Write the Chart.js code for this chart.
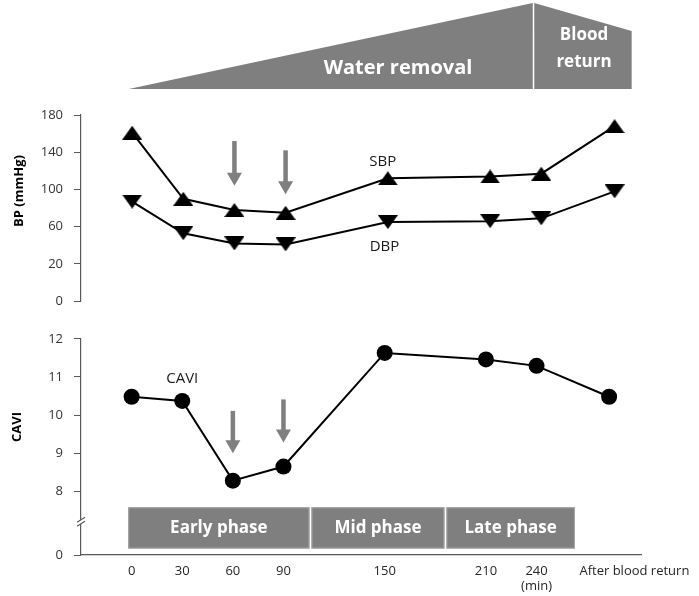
<!DOCTYPE html>
<html>
<head>
<meta charset="utf-8">
<script src="https://cdn.jsdelivr.net/npm/chart.js@4.4.0/dist/chart.umd.min.js"></script>
<style>
  html, body { margin: 0; padding: 0; background: #fff; }
  #wrap { position: relative; width: 699px; height: 596px; }
  #bpChart { position: absolute; left: 0; top: 0; }
  #caviChart { position: absolute; left: 0; top: 320px; }
</style>
</head>
<body>
<div id="wrap">
  <canvas id="bpChart" width="699" height="320"></canvas>
  <canvas id="caviChart" width="699" height="276"></canvas>
</div>
<script>
// time points (min) and readings
const timeLabels = ['0', '30', '60', '90', '150', '210', '240', 'After blood return'];
const timeMinutes = [0, 30, 60, 90, 150, 210, 240, 283];
const sbp = [161, 90, 78, 75, 112, 114, 117, 168];
const dbp = [87, 53, 42, 41, 65, 66, 69, 98];
const cavi = [10.48, 10.37, 8.28, 8.65, 11.63, 11.46, 11.29, 10.48];

// broken axes: the "0" tick sits at the floor value
const bpTickLabels = ['0', '20', '60', '100', '140', '180'];
const caviTickLabels = ['0', '8', '9', '10', '11', '12'];
const BP_FLOOR = -20;
const CAVI_FLOOR = 6.33;

const phaseNames = ['Early phase', 'Mid phase', 'Late phase'];
const phaseEdges = [-2.6, 106, 186, 263.3];

const GREY = '#7f7f7f';
const AXIS = '#595959';
const FONT = '"Open Sans", "DejaVu Sans", sans-serif';
const AFTER_LABEL_AT = 298;

function triangleImg(down) {
  const w = 20, h = 14;
  const c = document.createElement('canvas');
  c.width = w; c.height = h;
  const g = c.getContext('2d');
  g.fillStyle = '#000';
  g.beginPath();
  if (down) { g.moveTo(0, 0); g.lineTo(w, 0); g.lineTo(w / 2, h); }
  else { g.moveTo(w / 2, 0); g.lineTo(w, h); g.lineTo(0, h); }
  g.closePath();
  g.fill();
  return c;
}

function points(vals) {
  return timeMinutes.map((m, i) => ({ x: m, y: vals[i] }));
}

function yScale(floor, max, labels) {
  return {
    min: floor, max: max,
    afterBuildTicks: s => {
      s.ticks = labels.map((l, i) => ({ value: i === 0 ? floor : Number(l) }));
    },
    afterFit: s => { s.width = 81; },
    ticks: {
      callback: (v, i) => labels[i],
      color: '#333', padding: 11,
      font: { family: FONT, size: 13 }
    },
    grid: { drawOnChartArea: false, tickLength: 7, color: AXIS },
    border: { color: AXIS, width: 1.2 }
  };
}

function arrow(ctx, x, y0, y1) {
  const shaft = 4.5, headW = 15, headH = 13;
  ctx.fillStyle = GREY;
  ctx.fillRect(x - shaft / 2, y0, shaft, y1 - y0 - headH + 1);
  ctx.beginPath();
  ctx.moveTo(x - headW / 2, y1 - headH);
  ctx.lineTo(x + headW / 2, y1 - headH);
  ctx.lineTo(x, y1);
  ctx.closePath();
  ctx.fill();
}

// arrows + series labels, given in data units
const decor = {
  id: 'decor',
  afterDatasetsDraw(chart, args, opts) {
    const { ctx, scales: { x, y } } = chart;
    ctx.save();
    (opts.arrows || []).forEach(a => {
      arrow(ctx, x.getPixelForValue(a.x), y.getPixelForValue(a.from), y.getPixelForValue(a.to));
    });
    ctx.fillStyle = '#1a1a1a';
    ctx.font = '15px ' + FONT;
    ctx.textAlign = 'center';
    ctx.textBaseline = 'middle';
    (opts.labels || []).forEach(l => {
      ctx.fillText(l.text, x.getPixelForValue(l.x), y.getPixelForValue(l.y));
    });
    // rotated axis title
    ctx.font = 'bold 13px ' + FONT;
    ctx.fillStyle = '#000';
    ctx.translate(opts.titleX, opts.titleY);
    ctx.rotate(-Math.PI / 2);
    ctx.fillText(opts.title, 0, 0);
    ctx.restore();
  }
};

const banner = {
  id: 'banner',
  beforeDraw(chart) {
    const { ctx, scales: { x } } = chart;
    const xl = x.getPixelForValue(-2), xp = x.getPixelForValue(235), xr = x.getPixelForValue(293);
    ctx.save();
    ctx.fillStyle = GREY;
    ctx.beginPath();
    ctx.moveTo(xl, 89); ctx.lineTo(xp, 3); ctx.lineTo(xp, 89); ctx.closePath();
    ctx.fill();
    ctx.beginPath();
    ctx.moveTo(xp + 1.5, 3); ctx.lineTo(xr, 31); ctx.lineTo(xr, 89); ctx.lineTo(xp + 1.5, 89); ctx.closePath();
    ctx.fill();
    ctx.fillStyle = '#fff';
    ctx.textAlign = 'center';
    ctx.textBaseline = 'middle';
    ctx.font = 'bold 20px ' + FONT;
    ctx.fillText('Water removal', 398, 68);
    ctx.font = 'bold 17px ' + FONT;
    ctx.fillText('Blood', 584, 35);
    ctx.fillText('return', 584, 62);
    ctx.restore();
  }
};

const phases = {
  id: 'phases',
  beforeDatasetsDraw(chart) {
    const { ctx, scales: { x, y } } = chart;
    const top = y.getPixelForValue(7.58), bot = y.getPixelForValue(6.5);
    ctx.save();
    phaseNames.forEach((name, i) => {
      const l = x.getPixelForValue(phaseEdges[i]) + 1, r = x.getPixelForValue(phaseEdges[i + 1]) - 1;
      ctx.fillStyle = GREY;
      ctx.fillRect(l, top, r - l, bot - top);
      ctx.strokeStyle = '#a6a6a6';
      ctx.lineWidth = 1;
      ctx.strokeRect(l + 0.5, top + 0.5, r - l - 1, bot - top - 1);
      ctx.fillStyle = '#fff';
      ctx.font = 'bold 17px ' + FONT;
      ctx.textAlign = 'center';
      ctx.textBaseline = 'middle';
      ctx.fillText(name, (l + r) / 2, (top + bot) / 2);
    });
    // axis break mark
    const ax = chart.chartArea.left, by = y.getPixelForValue(7.2);
    ctx.fillStyle = '#fff';
    ctx.fillRect(ax - 4, by - 2, 8, 4);
    ctx.strokeStyle = AXIS;
    ctx.lineWidth = 1.2;
    [-2, 2].forEach(d => {
      ctx.beginPath();
      ctx.moveTo(ax - 4, by + d + 2.5);
      ctx.lineTo(ax + 4, by + d - 2.5);
      ctx.stroke();
    });
    ctx.restore();
  }
};

const lineStyle = { borderColor: '#000', borderWidth: 2, tension: 0, clip: false };

new Chart(document.getElementById('bpChart'), {
  type: 'line',
  data: {
    datasets: [
      Object.assign({ label: 'SBP', data: points(sbp), pointStyle: triangleImg(false), pointRadius: 8 }, lineStyle),
      Object.assign({ label: 'DBP', data: points(dbp), pointStyle: triangleImg(true), pointRadius: 8 }, lineStyle)
    ]
  },
  options: {
    responsive: false,
    animation: false,
    layout: { padding: { left: 0, right: 52, top: 115, bottom: 17 } },
    plugins: {
      legend: { display: false },
      tooltip: { enabled: false },
      decor: {
        arrows: [{ x: 60, from: 152, to: 104 }, { x: 90, from: 142, to: 95 }],
        labels: [{ text: 'SBP', x: 147, y: 130 }, { text: 'DBP', x: 148, y: 38 }],
        title: 'BP (mmHg)', titleX: 19, titleY: 191
      }
    },
    scales: {
      x: { type: 'linear', min: -30, max: 302, display: false },
      y: yScale(BP_FLOOR, 180, bpTickLabels)
    }
  },
  plugins: [banner, decor]
});

new Chart(document.getElementById('caviChart'), {
  type: 'line',
  data: {
    datasets: [
      Object.assign({ label: 'CAVI', data: points(cavi), pointStyle: 'circle', pointRadius: 8,
        pointBackgroundColor: '#000', pointBorderColor: '#000', pointBorderWidth: 0 }, lineStyle)
    ]
  },
  options: {
    responsive: false,
    animation: false,
    layout: { padding: { left: 0, right: 52, top: 17, bottom: 0 } },
    plugins: {
      legend: { display: false },
      tooltip: { enabled: false },
      decor: {
        arrows: [{ x: 60, from: 10.11, to: 9.0 }, { x: 90, from: 10.41, to: 9.28 }],
        labels: [{ text: 'CAVI', x: 30, y: 10.95 }],
        title: 'CAVI', titleX: 17, titleY: 107
      }
    },
    scales: {
      x: {
        type: 'linear', min: -30, max: 302,
        afterBuildTicks: s => {
          s.ticks = timeMinutes.map((m, i) => ({ value: i === timeMinutes.length - 1 ? AFTER_LABEL_AT : m }));
        },
        afterFit: s => { s.height = 41; },
        ticks: {
          callback: (v, i) => (timeLabels[i] === '240' ? ['240', '(min)'] : timeLabels[i]),
          autoSkip: false, maxRotation: 0, padding: 9,
          color: '#262626',
          font: { family: FONT, size: 13, lineHeight: 1.15 }
        },
        grid: { display: false, drawTicks: false },
        border: { display: true, color: AXIS, width: 1.2 }
      },
      y: yScale(CAVI_FLOOR, 12, caviTickLabels)
    }
  },
  plugins: [phases, decor]
});
</script>
</body>
</html>
